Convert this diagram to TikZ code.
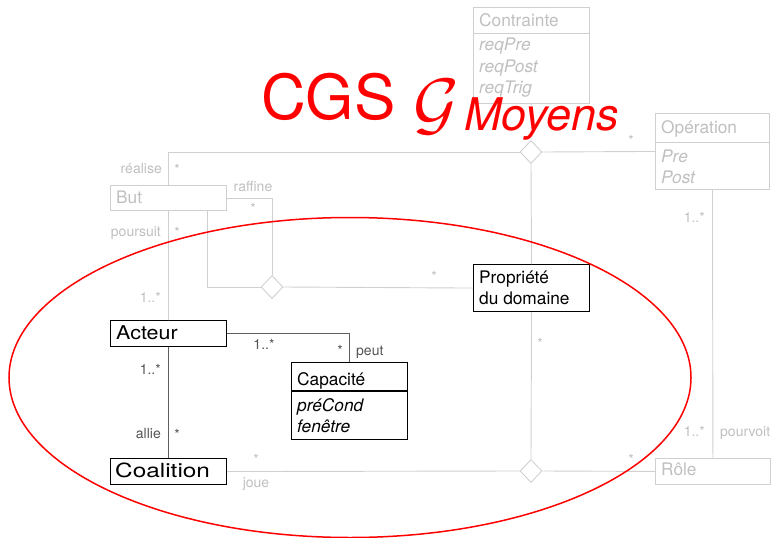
\documentclass[tikz,border=0pt]{standalone}
\usepackage{graphicx}
\usepackage{fontspec}
\setmainfont{TeX Gyre Heros}
\usetikzlibrary{shapes.geometric}
\definecolor{fadeline}{RGB}{208,208,208}
\definecolor{fadetext}{RGB}{192,192,192}
\definecolor{darkline}{RGB}{95,95,95}
\definecolor{darktext}{RGB}{85,85,85}
\begin{document}
\begin{tikzpicture}[x=1pt,y=-1pt,
  cls/.style={rectangle, inner sep=0pt, anchor=north west, line width=0.9pt},
  fadebox/.style={cls, draw=fadeline},
  darkbox/.style={cls, draw=black, line width=1.1pt},
  fl/.style={draw=fadeline, line width=0.9pt},
  dl/.style={draw=darkline, line width=1pt},
  txt/.style={inner sep=0pt, anchor=base west, font=\fontsize{17.3}{20}\selectfont},
  itxt/.style={txt, font=\fontsize{17.3}{20}\selectfont\itshape},
  lbl/.style={inner sep=0pt, anchor=base, font=\fontsize{14}{16}\selectfont},
  flbl/.style={lbl, text=fadetext},
  dlbl/.style={lbl, text=darktext},
  dmd/.style={diamond, draw=fadeline, fill=white, line width=0.9pt, inner sep=0pt, minimum width=22pt, minimum height=23pt}
]
\useasboundingbox (0,0) rectangle (771,538);
\fill[white] (0,0) rectangle (771,538);

% boxes
\node[fadebox, minimum width=116pt, minimum height=96pt] (contrainte) at (473,7) {};
\node[fadebox, minimum width=114pt, minimum height=76pt] (operation) at (655,113) {};
\node[fadebox, minimum width=116pt, minimum height=25pt] (but) at (110,185) {};
\node[fadebox, minimum width=115pt, minimum height=26pt] (role) at (655,458) {};
\node[darkbox, minimum width=116pt, minimum height=47pt] (prop) at (473,264) {};
\node[darkbox, minimum width=116pt, minimum height=26pt] (acteur) at (110,320) {};
\node[darkbox, minimum width=116pt, minimum height=77pt] (capa) at (291,362) {};
\node[darkbox, minimum width=116pt, minimum height=26pt] (coal) at (110,458) {};

% compartment lines
\draw[fl] (473,33) -- (589,33);
\draw[fl] (655,142) -- (769,142);
\draw[draw=black, line width=1.1pt] (291,391) -- (407,391);

% box texts
\node[txt, text=fadetext] (t1) at (479,26) {Contrainte};
\node[itxt, text=fadetext] (t2) at (479,50) {reqPre};
\node[itxt, text=fadetext] (t3) at (479,72) {reqPost};
\node[itxt, text=fadetext] (t4) at (479,93) {reqTrig};
\node[txt, text=fadetext] (t5) at (661,133) {Opération};
\node[itxt, text=fadetext] (t6) at (661,162) {Pre};
\node[itxt, text=fadetext] (t7) at (661,183) {Post};
\node[txt, text=fadetext] (t8) at (116,203) {But};
\node[txt, text=fadetext] (t9) at (661,475) {Rôle};
\node[txt] (t10) at (479,283) {Propriété};
\node[txt] (t11) at (479,304) {du domaine};
\node[txt, font=\fontsize{19}{22}\selectfont] (t12) at (116,339) {\scalebox{1.13}[1]{Acteur}};
\node[txt] (t13) at (297,385) {Capacité};
\node[itxt] (t14) at (297,411) {préCond};
\node[itxt] (t15) at (297,432) {fenêtre};
\node[txt, font=\fontsize{19.5}{22}\selectfont] (t16) at (115,477) {\scalebox{1.25}[1]{Coalition}};

% diamonds
\node[dmd] (d1) at (531,152) {};
\node[dmd] (d2) at (272,287) {};
\node[dmd] (d3) at (531,471) {};

% faded connectors
\draw[draw=fadeline, line width=0.9pt, dotted] (contrainte.south) -- (d1.north);
\draw[fl] (d1.west) -| (but.north);
\draw[fl] (d1.east) -- (operation.west);
\draw[fl] (d1.south) -- (prop.north);
\draw[fl] (prop.south) -- (d3.north);
\draw[fl] (d3.west) -- (coal.east);
\draw[fl] (d3.east) -- (role.west);
\draw[fl] (operation.south) -- (role.north);
\draw[fl] (but.east) -| (d2.north);
\draw[fl] ([xshift=39pt]but.south) |- (d2.west);
\draw[fl] (d2.east) -- (prop.west);
\draw[fl] (but.south) -- (acteur.north);

% dark connectors
\draw[dl] (acteur.south) -- (coal.north);
\draw[dl] (acteur.east) -| (capa.north);

% faded labels
\node[flbl, anchor=base east] (l1) at (162,173) {réalise};
\node[flbl] (l2) at (177,174) {*};
\node[flbl] (l3) at (253,191) {raffine};
\node[flbl] (l4) at (253,213) {*};
\node[flbl, anchor=base east] (l5) at (161,236) {poursuit};
\node[flbl] (l6) at (177,237) {*};
\node[flbl, anchor=base east] (l7) at (161,302) {1..*};
\node[flbl] (l8) at (434,281) {*};
\node[flbl] (l9) at (631,145) {*};
\node[flbl] (l10) at (540,348) {*};
\node[flbl, anchor=base east] (l11) at (705,222) {1..*};
\node[flbl, anchor=base east] (l12) at (705,436) {1..*};
\node[flbl, anchor=base west] (l13) at (720,436) {pourvoit};
\node[flbl] (l14) at (256,464) {*};
\node[flbl] (l15) at (256,487) {joue};
\node[flbl] (l16) at (631,464) {*};

% dark labels
\node[dlbl] (l17) at (264,349) {1..*};
\node[dlbl] (l18) at (340,355) {*};
\node[dlbl, anchor=base west] (l19) at (356,355) {peut};
\node[dlbl, anchor=base east] (l20) at (161,374) {1..*};
\node[dlbl, anchor=base east] (l21) at (161,438) {allie};
\node[dlbl] (l22) at (177,439) {*};

% title
\node[inner sep=0pt, anchor=base west, text=red, font=\fontsize{62}{70}\selectfont] (title) at (261,119) {CGS};
\node[inner sep=0pt, anchor=base west, text=red] (calg) at (413,127) {\scalebox{7}{$\mathcal{G}$}};
\node[inner sep=0pt, anchor=base west, text=red, font=\fontsize{45}{50}\selectfont\itshape] (moy) at (464,130) {Moyens};

% ellipse
\draw[red, line width=1.5pt] (350,377.5) ellipse [x radius=341pt, y radius=160pt];
\end{tikzpicture}
\end{document}
